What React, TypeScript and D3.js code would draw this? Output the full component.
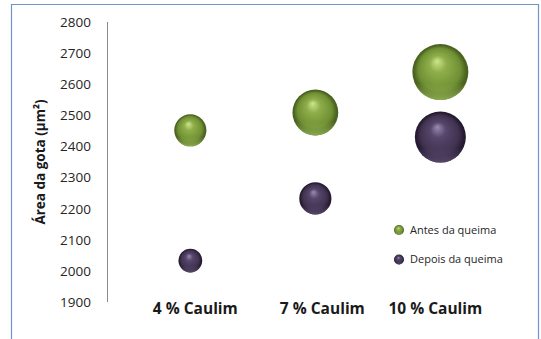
import React from "react";
import * as d3 from "d3";

// Kaolin content of each formulation (%)
const caulim = [4, 7, 10];
const categoryLabels = ["4 % Caulim", "7 % Caulim", "10 % Caulim"];

// Droplet area (µm²) before and after firing
const antesArea = [2452, 2509, 2639];
const depoisArea = [2033, 2233, 2430];

// Bubble sizes (relative)
const antesSize = [33, 67, 100];
const depoisSize = [18, 33, 83];

const yTicks = [1900, 2000, 2100, 2200, 2300, 2400, 2500, 2600, 2700, 2800];

const seriesNames = ["Antes da queima", "Depois da queima"];

const W = 541;
const H = 339;
const FONT = "'Open Sans', 'Noto Sans', sans-serif";

const x = d3.scaleLinear().domain([2, 12]).range([107, 523.7]);
const y = d3.scaleLinear().domain([1900, 2800]).range([302, 22]);
const r = d3.scaleSqrt().domain([0, 100]).range([0, 28]);

// small horizontal nudges for the category text boxes
const labelNudge = [5, 7, -5];

type Palette = { id: string; hi: string; mid: string; base: string; edge: string; rim: string };
const green: Palette = { id: "g", hi: "#cbe88a", mid: "#8fae4a", base: "#6f8f33", edge: "#4a6320", rim: "#93b352" };
const purple: Palette = { id: "p", hi: "#9a8db0", mid: "#56476c", base: "#40324f", edge: "#251b31", rim: "#5d4d72" };

function SphereDefs({ p }: { p: Palette }) {
  return (
    <>
      <radialGradient id={`body-${p.id}`} cx="0.5" cy="0.5" r="0.5" fx="0.44" fy="0.3">
        <stop offset="0" stopColor={p.hi} />
        <stop offset="0.3" stopColor={p.mid} />
        <stop offset="0.75" stopColor={p.base} />
        <stop offset="0.93" stopColor={p.edge} />
        <stop offset="1" stopColor={p.edge} />
      </radialGradient>
      <linearGradient id={`rim-${p.id}`} x1="0" y1="0" x2="0" y2="1">
        <stop offset="0.7" stopColor={p.rim} stopOpacity="0" />
        <stop offset="1" stopColor={p.rim} stopOpacity="0.9" />
      </linearGradient>
    </>
  );
}

function Sphere({ cx, cy, rad, p }: { cx: number; cy: number; rad: number; p: Palette }) {
  return (
    <g>
      <circle cx={cx} cy={cy} r={rad} fill={`url(#body-${p.id})`} />
      <circle cx={cx} cy={cy} r={rad} fill={`url(#rim-${p.id})`} />
    </g>
  );
}

export default function App() {
  const series = [
    { name: seriesNames[0], vals: antesArea, sizes: antesSize, p: green },
    { name: seriesNames[1], vals: depoisArea, sizes: depoisSize, p: purple },
  ];
  return (
    <svg
      width={W}
      height={H}
      style={{ position: "absolute", left: 0, top: 0, background: "#fff" }}
      fontFamily={FONT}
    >
      <defs>
        <SphereDefs p={green} />
        <SphereDefs p={purple} />
      </defs>

      {/* frame */}
      <path d={`M11.5,${H} V4.5 H538.5 V${H}`} fill="none" stroke="#6f96c9" strokeWidth={1.2} />

      {/* y axis */}
      <line x1={107.5} x2={107.5} y1={y(2800)} y2={y(1900)} stroke="#8c8c8c" strokeWidth={1} />
      {yTicks.map((t) => (
        <text key={t} x={91} y={y(t)} dy="0.36em" textAnchor="end" fontSize={13.5} fill="#262626">
          {t}
        </text>
      ))}
      <text
        transform={`translate(45,${162}) rotate(-90)`}
        textAnchor="middle"
        fontSize={13.5}
        fontWeight="bold"
        fill="#1a1a1a"
      >
        Área da gota (µm²)
      </text>

      {/* category labels */}
      {caulim.map((c, i) => (
        <text
          key={c}
          x={x(c) + labelNudge[i]}
          y={314}
          textAnchor="middle"
          fontSize={15.5}
          fontWeight="bold"
          fill="#1a1a1a"
        >
          {categoryLabels[i]}
        </text>
      ))}

      {/* bubbles */}
      {series.map((s) =>
        caulim.map((c, i) => (
          <Sphere key={s.name + c} cx={x(c)} cy={y(s.vals[i])} rad={r(s.sizes[i])} p={s.p} />
        ))
      )}

      {/* legend */}
      {series.map((s, i) => (
        <g key={s.name} transform={`translate(399,${230 + i * 29.5})`}>
          <Sphere cx={0} cy={0} rad={5} p={s.p} />
          <text x={11} y={0} dy="0.35em" fontSize={11} fill="#262626">
            {s.name}
          </text>
        </g>
      ))}
    </svg>
  );
}
